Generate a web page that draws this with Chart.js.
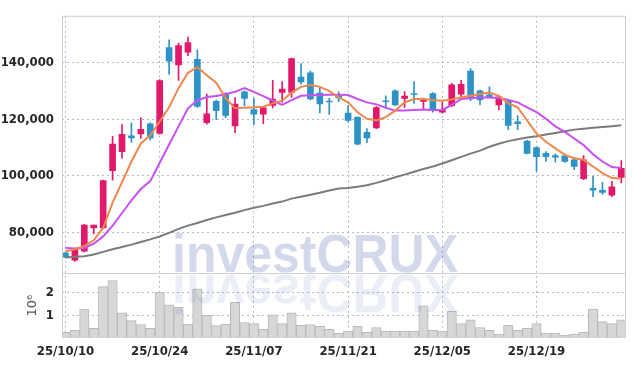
<!DOCTYPE html>
<html>
<head>
<meta charset="utf-8">
<script src="https://cdn.jsdelivr.net/npm/chart.js@4.4.1/dist/chart.umd.min.js"></script>
<style>
    html, body { margin: 0; padding: 0; background: #fff; }
    #wrap { width: 634px; height: 366px; }
</style>
</head>
<body>
<div id="wrap"><canvas id="chart"></canvas></div>
<script>
const dates = [
    '25/10/10', '25/10/13', '25/10/14', '25/10/15', '25/10/16', '25/10/17',
    '25/10/20', '25/10/21', '25/10/22', '25/10/23', '25/10/24',
    '25/10/27', '25/10/28', '25/10/29', '25/10/30', '25/10/31',
    '25/11/03', '25/11/04', '25/11/05', '25/11/06', '25/11/07',
    '25/11/10', '25/11/11', '25/11/12', '25/11/13', '25/11/14',
    '25/11/17', '25/11/18', '25/11/19', '25/11/20', '25/11/21',
    '25/11/24', '25/11/25', '25/11/26', '25/11/27', '25/11/28',
    '25/12/01', '25/12/02', '25/12/03', '25/12/04', '25/12/05',
    '25/12/08', '25/12/09', '25/12/10', '25/12/11', '25/12/12',
    '25/12/15', '25/12/16', '25/12/17', '25/12/18', '25/12/19',
    '25/12/22', '25/12/23', '25/12/24', '25/12/26', '25/12/29',
    '25/12/30', '26/01/02', '26/01/05', '26/01/06'
];

const opens = [
    72650, 70100, 73250, 81500, 81500, 101800, 108550, 114150, 114850, 118450,
    115050, 145450, 139300, 143850, 141300, 118800, 126350, 129150, 117650, 129750,
    123450, 121850, 124950, 129500, 129500, 135000, 136500, 129300, 126500, 128350,
    122200, 120800, 115400, 116950, 126600, 130100, 127400, 129150, 126350, 129150,
    122500, 124850, 128950, 137100, 130100, 128700, 125100, 126350, 119150, 112250,
    109950, 107950, 107150, 107050, 105650, 99000, 95500, 94800, 93150, 99450
];
const highs = [
    72900, 74400, 82800, 82550, 98500, 114000, 118100, 118800, 120550, 118800,
    134050, 148150, 147000, 149200, 144650, 128950, 126850, 129500, 127750, 130100,
    127550, 124250, 133800, 133350, 141750, 139750, 137100, 131050, 127550, 129750,
    124850, 120800, 116700, 124500, 128350, 130450, 129850, 133350, 127550, 129500,
    126000, 132800, 133800, 138000, 130350, 131500, 128350, 126850, 121350, 112600,
    110300, 108550, 107750, 107750, 106550, 107150, 99800, 97700, 98050, 105400
];
const lows = [
    70900, 69600, 73000, 79400, 81500, 98400, 106200, 111800, 113200, 112600,
    114700, 135900, 133800, 142550, 124250, 118300, 119850, 120550, 115300, 124850,
    118100, 118450, 124050, 126000, 127750, 132450, 126850, 122300, 121700, 126250,
    119050, 110900, 111700, 116700, 124050, 124850, 124250, 125650, 123350, 122500,
    122200, 124500, 127550, 126600, 125200, 127550, 123350, 116350, 116350, 107750,
    101550, 105050, 104800, 104700, 102150, 98650, 92600, 93400, 92600, 97500
];
const closes = [
    71150, 73950, 82550, 82550, 98300, 111200, 114700, 113450, 116450, 113450,
    133700, 140600, 146150, 147200, 124600, 121950, 123100, 121350, 125450, 127400,
    121850, 124050, 127200, 130700, 141500, 133250, 127200, 125450, 126150, 127550,
    119600, 111200, 113450, 124150, 126250, 125100, 128250, 128800, 127050, 123100,
    123450, 132200, 132450, 127200, 126850, 128000, 128000, 117850, 118450, 107950,
    106800, 106800, 106550, 105050, 103300, 105650, 94900, 94100, 96100, 102600
];

const maShort = [
    73250, 73950, 75100, 77100, 81500, 90500, 97700, 105050, 111450, 114350,
    119250, 124250, 131050, 136500, 138500, 135600, 133000, 127550, 123900, 124150,
    124250, 124500, 125650, 126600, 129500, 131500, 132200, 131500, 130100, 127750,
    126000, 122500, 120200, 119600, 120800, 123100, 126000, 127200, 127200, 126850,
    126600, 127050, 127750, 128350, 128950, 129500, 128350, 125650, 124250, 119600,
    114950, 112050, 109700, 107400, 106200, 105650, 103300, 100950, 99200, 99000
];
const maMid = [
    74400, 74200, 74400, 75900, 78500, 82300, 86800, 91300, 95300, 98100,
    104600, 111100, 117500, 123900, 126700, 127900, 128300, 128900, 129750, 131100,
    129750, 128200, 126680, 125150, 126780, 128350, 128500, 128600, 128700, 128700,
    128600, 127200, 126000, 125300, 124100, 123100, 123100, 123340, 123450, 123340,
    123340, 125090, 127190, 127540, 127770, 127770, 127540, 126840, 126020, 124270,
    122530, 120200, 117520, 115540, 113210, 110880, 107610, 105050, 103070, 102720
];
const maLong = [
    71030, 71270, 71500, 72080, 73010, 73950, 74760, 75580, 76510, 77440,
    78490, 79770, 81170, 82330, 83270, 84310, 85250, 86060, 86880, 87810,
    88630, 89330, 90140, 90840, 91890, 92590, 93290, 93990, 94800, 95500,
    95620, 96080, 96660, 97480, 98410, 99460, 100390, 101440, 102370, 103300,
    104350, 105510, 106680, 107840, 108900, 110290, 111340, 112270, 112970, 113550,
    114020, 114600, 115190, 115770, 116350, 116700, 117050, 117290, 117520, 117870
];

// volume in millions
const volumes = [
    0.25, 0.34, 1.27, 0.42, 2.25, 2.51, 1.10, 0.76, 0.59, 0.42,
    2.00, 1.45, 1.34, 0.61, 2.15, 0.99, 0.54, 0.61, 1.56, 0.68,
    0.63, 0.38, 1.01, 0.63, 1.10, 0.55, 0.59, 0.51, 0.38, 0.21,
    0.30, 0.51, 0.25, 0.46, 0.30, 0.30, 0.30, 0.30, 1.41, 0.34,
    0.30, 1.18, 0.63, 0.80, 0.46, 0.34, 0.17, 0.55, 0.34, 0.42,
    0.63, 0.21, 0.21, 0.13, 0.17, 0.25, 1.27, 0.72, 0.63, 0.80
];

const dateTicks = [0, 10, 20, 30, 40, 50];
const priceTicks = [80000, 100000, 120000, 140000];
const volumeTicks = [1, 2];

const UP = '#e2196a';
const DOWN = '#2d93c7';
const tickFont = { family: "'DejaVu Sans Condensed', 'DejaVu Sans', sans-serif", size: 13, weight: 'bold' };
const gridColor = 'rgba(160, 166, 205, 0.8)';

const candleColors = opens.map((o, i) => closes[i] >= o ? UP : DOWN);
const pts = arr => arr.map((v, i) => ({ x: i, y: v }));

const framePlugin = {
    id: 'frame',
    afterDraw(chart) {
        const { ctx, chartArea: a } = chart;
        const divider = chart.scales.yv.top;
        ctx.save();
        ctx.strokeStyle = '#cfcfcf';
        ctx.lineWidth = 1;
        ctx.strokeRect(a.left + 0.5, a.top + 0.5, a.right - a.left - 1, a.bottom - a.top - 1);
        ctx.beginPath();
        ctx.moveTo(a.left, Math.round(divider) + 0.5);
        ctx.lineTo(a.right, Math.round(divider) + 0.5);
        ctx.stroke();
        ctx.restore();
    }
};

const watermarkPlugin = {
    id: 'watermark',
    afterDatasetsDraw(chart) {
        const { ctx, chartArea: a } = chart;
        const base = chart.scales.yv.top;
        const text = 'investCRUX';
        ctx.save();
        ctx.font = "bold 53px 'Liberation Sans', Arial, sans-serif";
        const w = ctx.measureText(text).width;
        const sx = 286 / w;
        const left = a.left + 110;
        ctx.fillStyle = 'rgba(35, 65, 150, 0.2)';
        ctx.translate(left, base - 1);
        ctx.scale(sx, 1);
        ctx.fillText(text, 0, 0);
        ctx.restore();

        ctx.save();
        ctx.beginPath();
        ctx.rect(a.left, base + 1, a.right - a.left, a.bottom - base - 1);
        ctx.clip();
        ctx.font = "bold 53px 'Liberation Sans', Arial, sans-serif";
        ctx.fillStyle = 'rgba(35, 65, 150, 0.09)';
        ctx.translate(left, base + 2);
        ctx.scale(sx, -1);
        ctx.fillText(text, 0, 0);
        ctx.restore();
    }
};

new Chart(document.getElementById('chart').getContext('2d'), {
    type: 'bar',
    data: {
        datasets: [
            {
                type: 'line', data: pts(maShort), yAxisID: 'y',
                borderColor: '#f0874d', borderWidth: 2, pointRadius: 0, order: 0
            },
            {
                type: 'line', data: pts(maMid), yAxisID: 'y',
                borderColor: '#c650f2', borderWidth: 2, pointRadius: 0, order: 0
            },
            {
                type: 'line', data: pts(maLong), yAxisID: 'y',
                borderColor: '#7b7b7b', borderWidth: 2, pointRadius: 0, order: 0
            },
            {
                data: opens.map((o, i) => ({ x: i, y: [o, closes[i]] })), yAxisID: 'y',
                backgroundColor: candleColors, borderWidth: 0, barThickness: 6,
                grouped: false, order: 1
            },
            {
                data: lows.map((l, i) => ({ x: i, y: [l, highs[i]] })), yAxisID: 'y',
                backgroundColor: candleColors, borderWidth: 0, barThickness: 1,
                grouped: false, order: 2
            },
            {
                data: pts(volumes), yAxisID: 'yv',
                backgroundColor: '#d7d7d7', borderColor: '#b9b9b9', borderWidth: 1,
                barPercentage: 1, categoryPercentage: 1, grouped: false, order: 3
            }
        ]
    },
    options: {
        responsive: true,
        maintainAspectRatio: false,
        animation: false,
        layout: { padding: { top: 9, right: 8, left: 0, bottom: 0 } },
        plugins: {
            legend: { display: false },
            tooltip: { enabled: false }
        },
        scales: {
            x: {
                type: 'linear',
                offset: false,
                min: -0.37,
                max: 59.5,
                afterBuildTicks: s => { s.ticks = dateTicks.map(v => ({ value: v })); },
                afterFit: s => { s.height = 28; },
                ticks: {
                    callback: v => dates[v],
                    autoSkip: false, maxRotation: 0,
                    font: tickFont, color: '#262626', padding: 6
                },
                grid: { color: gridColor, drawTicks: false, offset: false },
                border: { display: false, dash: [2, 3] }
            },
            yv: {
                type: 'linear',
                position: 'left',
                stack: 'main',
                stackWeight: 66,
                min: 0,
                max: 2.83,
                afterBuildTicks: s => { s.ticks = volumeTicks.map(v => ({ value: v })); },
                afterFit: s => { s.width = 62; },
                ticks: {
                    font: tickFont, color: '#262626', padding: 8
                },
                title: {
                    display: true, text: '10\u2076',
                    font: { family: "'DejaVu Sans', sans-serif", size: 13 },
                    color: '#555', padding: { top: 25, bottom: 0 }
                },
                grid: { color: gridColor, drawTicks: false },
                border: { display: false, dash: [2, 3] }
            },
            y: {
                type: 'linear',
                position: 'left',
                stack: 'main',
                stackWeight: 263,
                min: 65400,
                max: 156700,
                afterBuildTicks: s => { s.ticks = priceTicks.map(v => ({ value: v })); },
                afterFit: s => { s.width = 62; },
                ticks: {
                    callback: v => v.toLocaleString('en-US'),
                    font: tickFont, color: '#262626', padding: 8
                },
                grid: { color: gridColor, drawTicks: false },
                border: { display: false, dash: [2, 3] }
            }
        }
    },
    plugins: [watermarkPlugin, framePlugin]
});
</script>
</body>
</html>
